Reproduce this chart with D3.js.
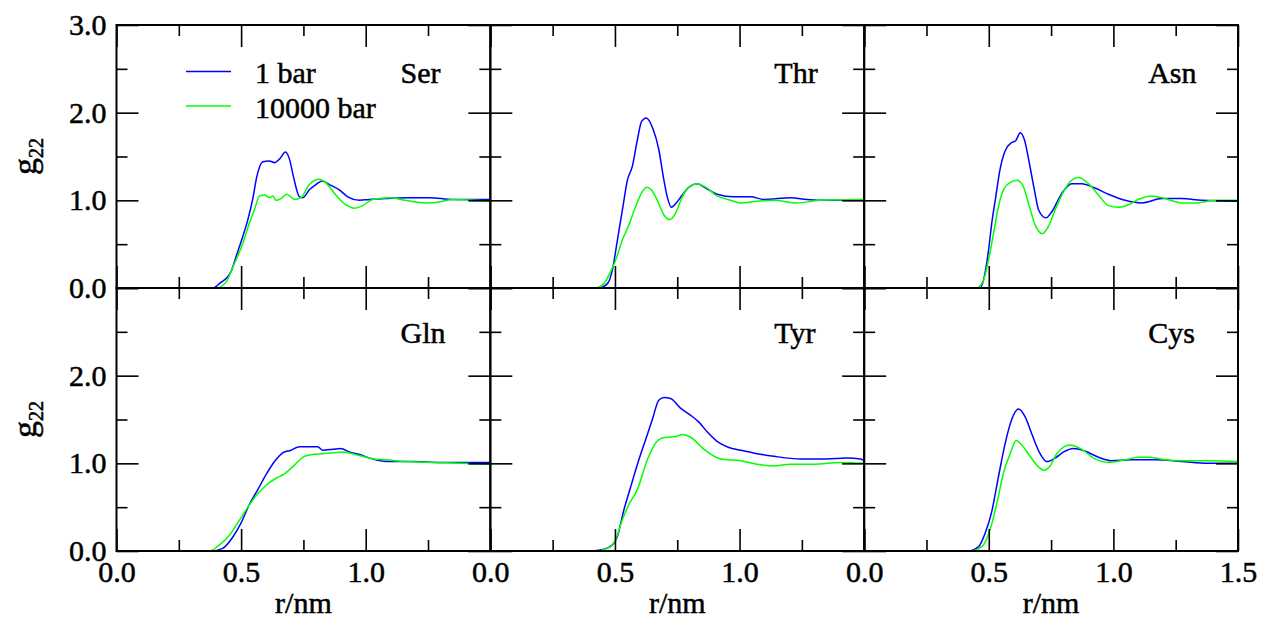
<!DOCTYPE html>
<html>
<head>
<meta charset="utf-8">
<style>
    body { margin: 0; background: #fff; }
    svg {
        display: block;
        font-family: 'Liberation Serif', 'Times New Roman', serif;
    }
    .axis .domain { display: none; }
    .axis .tick line { stroke: #000; stroke-width: 1.6px; }
    .axis .tick text {
        font-size: 30px;
        fill: #000;
        stroke: #000;
        stroke-width: 0.5px;
        font-family: 'Liberation Serif', 'Times New Roman', serif;
    }
    .frame { fill: none; stroke: #000; stroke-width: 2px; }
    .label { font-size: 30px; fill: #000; stroke: #000; stroke-width: 0.5px; }
    .curve { fill: none; stroke-width: 1.5px; }
</style>
</head>
<body>
<svg width="1262" height="619"></svg>
<script src="https://d3js.org/d3.v7.min.js"></script>
<script>
// residues, one panel each (3 x 2 grid)
const residues = ["Ser", "Thr", "Asn", "Gln", "Tyr", "Cys"];
const pressures = ["1 bar", "10000 bar"];
const lineColors = ["#0000ff", "#00ff00"];
const xMajor = [0, 0.5, 1.0, 1.5];
const xMinor = [0.25, 0.75, 1.25];
const yMajor = [0, 1, 2, 3];
const yMinor = [0.5, 1.5, 2.5];

// g22(r): [r/nm, g]
const ser1bar = [[0,0],[0.386,0],[0.413,0.05],[0.46,0.19],[0.48,0.36],[0.507,0.59],[0.527,0.78],[0.547,1.02],[0.563,1.27],[0.587,1.44],[0.614,1.45],[0.634,1.43],[0.654,1.47],[0.678,1.55],[0.694,1.47],[0.71,1.27],[0.734,1.04],[0.747,1.03],[0.774,1.12],[0.80,1.18],[0.825,1.22],[0.854,1.18],[0.894,1.12],[0.928,1.04],[0.975,1.0],[1.015,1.01],[1.08,1.02],[1.16,1.03],[1.255,1.03],[1.35,1.01],[1.5,1.01]];
const ser10kbar = [[0,0],[0.40,0],[0.44,0.07],[0.467,0.24],[0.507,0.51],[0.533,0.74],[0.553,0.89],[0.574,1.05],[0.594,1.06],[0.614,1.03],[0.627,1.05],[0.64,1.0],[0.66,1.02],[0.683,1.07],[0.714,1.01],[0.74,1.03],[0.774,1.18],[0.814,1.24],[0.84,1.20],[0.88,1.06],[0.92,0.95],[0.955,0.91],[0.988,0.94],[1.028,1.01],[1.095,1.03],[1.16,1.0],[1.24,0.97],[1.295,0.98],[1.35,1.01],[1.5,0.99]];

const thr1bar = [[0,0],[0.436,0],[0.47,0.05],[0.49,0.21],[0.51,0.55],[0.53,0.89],[0.55,1.23],[0.57,1.39],[0.59,1.69],[0.607,1.90],[0.626,1.94],[0.652,1.82],[0.676,1.58],[0.694,1.27],[0.71,1.04],[0.726,0.92],[0.743,0.96],[0.77,1.06],[0.797,1.15],[0.83,1.19],[0.864,1.14],[0.91,1.07],[0.977,1.04],[1.044,1.04],[1.098,1.01],[1.205,1.03],[1.27,1.01],[1.35,1.0],[1.5,1.0]];
const thr10kbar = [[0,0],[0.42,0],[0.456,0.05],[0.483,0.19],[0.503,0.32],[0.53,0.55],[0.556,0.72],[0.583,0.93],[0.61,1.10],[0.627,1.15],[0.646,1.12],[0.67,1.0],[0.697,0.83],[0.72,0.78],[0.743,0.85],[0.77,1.04],[0.797,1.15],[0.83,1.19],[0.864,1.15],[0.91,1.05],[0.964,1.0],[1.004,0.97],[1.07,0.99],[1.138,1.0],[1.23,0.97],[1.325,1.0],[1.5,1.01]];

const asn1bar = [[0,0],[0.465,0],[0.485,0.17],[0.499,0.43],[0.512,0.74],[0.528,1.04],[0.545,1.35],[0.565,1.56],[0.592,1.66],[0.608,1.68],[0.626,1.77],[0.643,1.69],[0.663,1.42],[0.683,1.12],[0.70,0.89],[0.729,0.80],[0.753,0.87],[0.793,1.08],[0.833,1.19],[0.873,1.19],[0.926,1.14],[0.98,1.07],[1.047,1.0],[1.114,0.97],[1.194,1.02],[1.274,1.02],[1.354,1.0],[1.5,0.99]];
const asn10kbar = [[0,0],[0.452,0],[0.479,0.09],[0.499,0.32],[0.519,0.62],[0.539,0.93],[0.559,1.12],[0.579,1.19],[0.612,1.23],[0.635,1.18],[0.659,0.97],[0.686,0.72],[0.715,0.62],[0.739,0.70],[0.766,0.89],[0.80,1.10],[0.833,1.23],[0.86,1.26],[0.90,1.19],[0.94,1.06],[0.98,0.94],[1.02,0.92],[1.06,0.95],[1.10,1.01],[1.154,1.05],[1.207,1.02],[1.274,0.97],[1.327,0.97],[1.408,1.0],[1.5,1.0]];

const gln1bar = [[0,0],[0.38,0],[0.426,0.03],[0.467,0.16],[0.5,0.32],[0.533,0.53],[0.567,0.70],[0.60,0.87],[0.634,1.02],[0.667,1.12],[0.70,1.15],[0.734,1.19],[0.774,1.19],[0.807,1.19],[0.828,1.15],[0.868,1.16],[0.90,1.17],[0.934,1.13],[0.975,1.10],[1.028,1.05],[1.095,1.02],[1.19,1.02],[1.295,1.01],[1.40,1.01],[1.5,1.01]];
const gln10kbar = [[0,0],[0.373,0],[0.413,0.07],[0.453,0.18],[0.493,0.35],[0.527,0.50],[0.56,0.63],[0.60,0.75],[0.64,0.83],[0.674,0.88],[0.714,0.98],[0.754,1.08],[0.787,1.10],[0.828,1.11],[0.868,1.12],[0.908,1.13],[0.948,1.11],[0.988,1.08],[1.028,1.05],[1.08,1.04],[1.16,1.02],[1.27,1.01],[1.38,1.0],[1.5,0.99]];

const tyr1bar = [[0,0],[0.40,0],[0.456,0.02],[0.49,0.07],[0.509,0.16],[0.536,0.47],[0.563,0.73],[0.596,1.04],[0.623,1.27],[0.65,1.50],[0.676,1.72],[0.697,1.75],[0.723,1.74],[0.763,1.63],[0.803,1.55],[0.837,1.47],[0.87,1.36],[0.91,1.25],[0.957,1.18],[1.004,1.15],[1.07,1.11],[1.138,1.08],[1.245,1.05],[1.35,1.05],[1.43,1.06],[1.485,1.05],[1.5,1.03]];
const tyr10kbar = [[0,0],[0.416,0],[0.47,0.03],[0.503,0.13],[0.529,0.35],[0.556,0.53],[0.59,0.70],[0.63,1.04],[0.663,1.23],[0.69,1.29],[0.723,1.30],[0.75,1.31],[0.77,1.33],[0.803,1.30],[0.857,1.16],[0.924,1.05],[1.004,1.03],[1.07,0.99],[1.138,0.97],[1.205,0.99],[1.30,0.99],[1.405,1.01],[1.5,1.0]];

const cys1bar = [[0,0],[0.418,0],[0.459,0.05],[0.485,0.20],[0.512,0.45],[0.539,0.85],[0.566,1.23],[0.592,1.50],[0.619,1.62],[0.646,1.53],[0.672,1.34],[0.706,1.11],[0.733,1.02],[0.766,1.06],[0.80,1.13],[0.84,1.17],[0.886,1.14],[0.94,1.07],[0.993,1.03],[1.073,1.04],[1.167,1.04],[1.274,1.02],[1.38,1.0],[1.5,1.0]];
const cys10kbar = [[0,0],[0.425,0],[0.472,0.05],[0.505,0.24],[0.532,0.54],[0.559,0.89],[0.586,1.11],[0.61,1.26],[0.632,1.21],[0.666,1.08],[0.699,0.96],[0.722,0.92],[0.746,0.97],[0.773,1.11],[0.826,1.21],[0.873,1.16],[0.926,1.05],[0.98,1.01],[1.047,1.04],[1.10,1.07],[1.14,1.07],[1.207,1.04],[1.274,1.03],[1.38,1.03],[1.5,1.02]];

const panelSeries = [
    [ser1bar, ser10kbar],
    [thr1bar, thr10kbar],
    [asn1bar, asn10kbar],
    [gln1bar, gln10kbar],
    [tyr1bar, tyr10kbar],
    [cys1bar, cys10kbar]
];

let svg = d3.select("svg");

let plotLeft = 116.5, plotRight = 1238, plotTop = 25, plotBottom = 551;
let panelW = (plotRight - plotLeft) / 3;
let panelH = (plotBottom - plotTop) / 2;
let fmt = d3.format(".1f");

residues.forEach(function (name, i) {
    let col = i % 3;
    let row = Math.floor(i / 3);
    let x0 = plotLeft + col * panelW;
    let y0 = plotTop + row * panelH;

    let x = d3.scaleLinear().domain([0, 1.5]).range([x0, x0 + panelW]);
    let y = d3.scaleLinear().domain([0, 3]).range([y0 + panelH, y0]);

    let g = svg.append("g").attr("class", "panel");

    // curves
    let line = d3.line()
        .x(d => x(d[0]))
        .y(d => y(d[1]))
        .curve(d3.curveMonotoneX);

    g.selectAll(".curve")
        .data(panelSeries[i])
        .join("path")
        .attr("class", "curve")
        .attr("stroke", (d, k) => lineColors[k])
        .attr("d", line);

    // x ticks, bottom (labels only on the lower row)
    let xLabels = col === 2 ? xMajor : xMajor.filter(v => v < 1.5);
    g.append("g")
        .attr("class", "axis")
        .attr("transform", `translate(0,${y0 + panelH})`)
        .call(d3.axisBottom(x).tickValues(xMajor).tickSize(-22).tickPadding(10)
            .tickFormat(v => (row === 1 && xLabels.includes(v)) ? fmt(v) : ""));
    g.append("g")
        .attr("class", "axis")
        .attr("transform", `translate(0,${y0 + panelH})`)
        .call(d3.axisBottom(x).tickValues(xMinor).tickSize(-11).tickFormat(""));

    // x ticks, top
    g.append("g")
        .attr("class", "axis")
        .attr("transform", `translate(0,${y0})`)
        .call(d3.axisTop(x).tickValues(xMajor).tickSize(-22).tickFormat(""));
    g.append("g")
        .attr("class", "axis")
        .attr("transform", `translate(0,${y0})`)
        .call(d3.axisTop(x).tickValues(xMinor).tickSize(-11).tickFormat(""));

    // y ticks, left (labels only on the first column)
    let yLabels = row === 0 ? yMajor : yMajor.filter(v => v < 3);
    g.append("g")
        .attr("class", "axis")
        .attr("transform", `translate(${x0},0)`)
        .call(d3.axisLeft(y).tickValues(yMajor).tickSize(-22).tickPadding(10)
            .tickFormat(v => (col === 0 && yLabels.includes(v)) ? fmt(v) : ""));
    g.append("g")
        .attr("class", "axis")
        .attr("transform", `translate(${x0},0)`)
        .call(d3.axisLeft(y).tickValues(yMinor).tickSize(-11).tickFormat(""));

    // y ticks, right
    g.append("g")
        .attr("class", "axis")
        .attr("transform", `translate(${x0 + panelW},0)`)
        .call(d3.axisRight(y).tickValues(yMajor).tickSize(-22).tickFormat(""));
    g.append("g")
        .attr("class", "axis")
        .attr("transform", `translate(${x0 + panelW},0)`)
        .call(d3.axisRight(y).tickValues(yMinor).tickSize(-11).tickFormat(""));

    g.append("rect")
        .attr("class", "frame")
        .attr("x", x0)
        .attr("y", y0)
        .attr("width", panelW)
        .attr("height", panelH);

    // residue name
    g.append("text")
        .attr("class", "label")
        .attr("x", x0 + 284)
        .attr("y", y0 + (row === 0 ? 58 : 55))
        .text(name);

    // axis titles
    if (row === 1) {
        g.append("text")
            .attr("class", "label")
            .attr("x", x0 + panelW / 2)
            .attr("y", 613)
            .attr("text-anchor", "middle")
            .text("r/nm");
    }
    if (col === 0) {
        let t = g.append("text")
            .attr("class", "label")
            .attr("transform", `translate(36,${y0 + panelH / 2}) rotate(-90)`)
            .attr("text-anchor", "middle");
        t.append("tspan").attr("font-size", 34).text("g");
        t.append("tspan").attr("dy", 7).attr("font-size", 20).text("22");
    }

    // legend in the first panel
    if (i === 0) {
        let lg = g.append("g").attr("class", "legend");
        pressures.forEach(function (p, k) {
            let ly = 71.5 + k * 34.5;
            lg.append("line")
                .attr("x1", 186).attr("x2", 231)
                .attr("y1", ly).attr("y2", ly)
                .attr("stroke", lineColors[k])
                .attr("stroke-width", 1.5);
            lg.append("text")
                .attr("class", "label")
                .attr("x", 255)
                .attr("y", ly + 11.5)
                .text(p);
        });
    }
});
</script>
</body>
</html>
